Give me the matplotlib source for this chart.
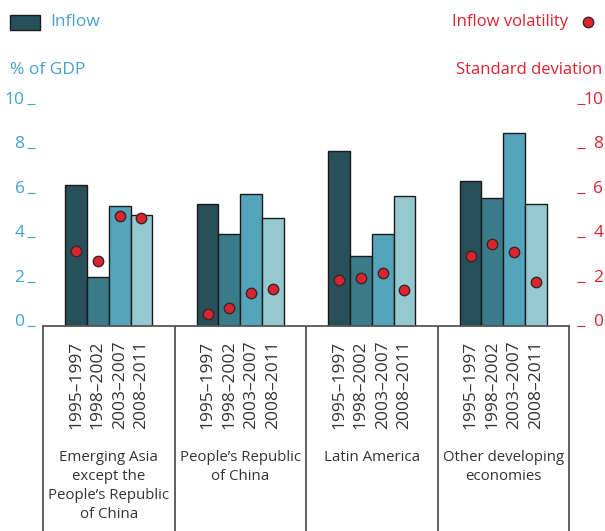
import numpy as np
import matplotlib
matplotlib.use("Agg")
from matplotlib import pyplot as plt
from matplotlib.patches import Rectangle

plt.rcParams['font.family'] = ['Open Sans', 'DejaVu Sans']

# data
groups = ["Emerging Asia\nexcept the\nPeople\u2019s Republic\nof China",
          "People\u2019s Republic\nof China",
          "Latin America",
          "Other developing\neconomies"]
periods = ["1995\u20131997", "1998\u20132002", "2003\u20132007", "2008\u20132011"]
inflow = [[6.35, 2.2, 5.4, 5.0],
          [5.5, 4.15, 5.95, 4.85],
          [7.9, 3.15, 4.15, 5.85],
          [6.55, 5.75, 8.7, 5.5]]
volatility = [[3.4, 2.95, 4.95, 4.85],
              [0.55, 0.8, 1.5, 1.65],
              [2.05, 2.15, 2.4, 1.6],
              [3.15, 3.7, 3.35, 2.0]]
yticks = [0, 2, 4, 6, 8, 10]

bar_cols = ["#27505a", "#3a7b8a", "#54a5ba", "#95c8cf"]
blue = "#43a2d2"
red = "#dc2430"
grey = "#333333"

W, H = 605, 531
fig = plt.figure(figsize=(W/100, H/100), dpi=100)

# main plot area
ax = fig.add_axes([43/W, (H-326)/H, 526/W, 222/H])
bw = 0.166
for i in range(len(groups)):
    for j in range(4):
        x = i + 0.5 + (j - 1.5)*bw
        ax.bar(x, inflow[i][j], width=bw, color=bar_cols[j],
               edgecolor="#1a1a1a", linewidth=1, zorder=2)
        ax.plot(x, volatility[i][j], "o", ms=7.5, mfc=red, mec="#3a2626",
                mew=1, zorder=3)
ax.set_xlim(0, 4)
ax.set_ylim(0, 10)
ax.set_xticks([])
for s in ax.spines.values():
    s.set_visible(False)
ax.spines['left'].set_position(('outward', 6))
ax.set_yticks(yticks, [str(v) for v in yticks], va='baseline')
ax.tick_params(axis='y', direction='out', length=5.8, width=0.8,
               color=blue, labelcolor=blue, labelsize=12.5, pad=1.5)

ax2 = ax.twinx()
ax2.set_ylim(0, 10)
for s in ax2.spines.values():
    s.set_visible(False)
ax2.spines['right'].set_position(('outward', 6))
ax2.set_yticks(yticks, [str(v) for v in yticks], va='baseline', ha='right')
ax2.tick_params(axis='y', direction='out', length=5.8, width=0.8,
                color=red, labelcolor=red, labelsize=12.5, pad=13)

# table below
tab = fig.add_axes([43/W, 0, 526/W, (H-326)/H])
tab.set_xlim(0, 4)
tab.set_ylim(205, 0)
tab.set_xticks([])
tab.set_yticks([])
tab.spines['bottom'].set_visible(False)
for s in ['left', 'right', 'top']:
    tab.spines[s].set_color("#555555")
    tab.spines[s].set_linewidth(1.3)
for k in [1, 2, 3]:
    tab.axvline(k, color="#555555", lw=1.3)
for i, g in enumerate(groups):
    for j, p in enumerate(periods):
        tab.text(i + 0.5 + (j - 1.5)*bw, 103, p, rotation=90, ha='center',
                 va='bottom', fontsize=12.5, color=grey)
    tab.text(i + 0.5, 124, g, ha='center', va='top', fontsize=10.8,
             color=grey, linespacing=1.35)

# legend and axis titles
fig.patches.append(Rectangle((10/W, (H-30)/H), 30/W, 15/H, transform=fig.transFigure,
                             facecolor=bar_cols[0], edgecolor="#1a1a1a", lw=1))
fig.text(50/W, (H-22)/H, "Inflow", color=blue, fontsize=12.5, va='center')
fig.text(10/W, (H-70)/H, "% of GDP", color=blue, fontsize=12.5, va='center')
fig.text(568/W, (H-22)/H, "Inflow volatility", color=red, fontsize=12,
         va='center', ha='right')
fig.add_artist(plt.Line2D([588/W], [(H-22)/H], marker='o', ms=7.5, mfc=red,
                          mec="#3a2626", mew=1, transform=fig.transFigure))
fig.text(602/W, (H-70)/H, "Standard deviation", color=red, fontsize=12,
         va='center', ha='right')

plt.savefig("out.png", dpi=100)
